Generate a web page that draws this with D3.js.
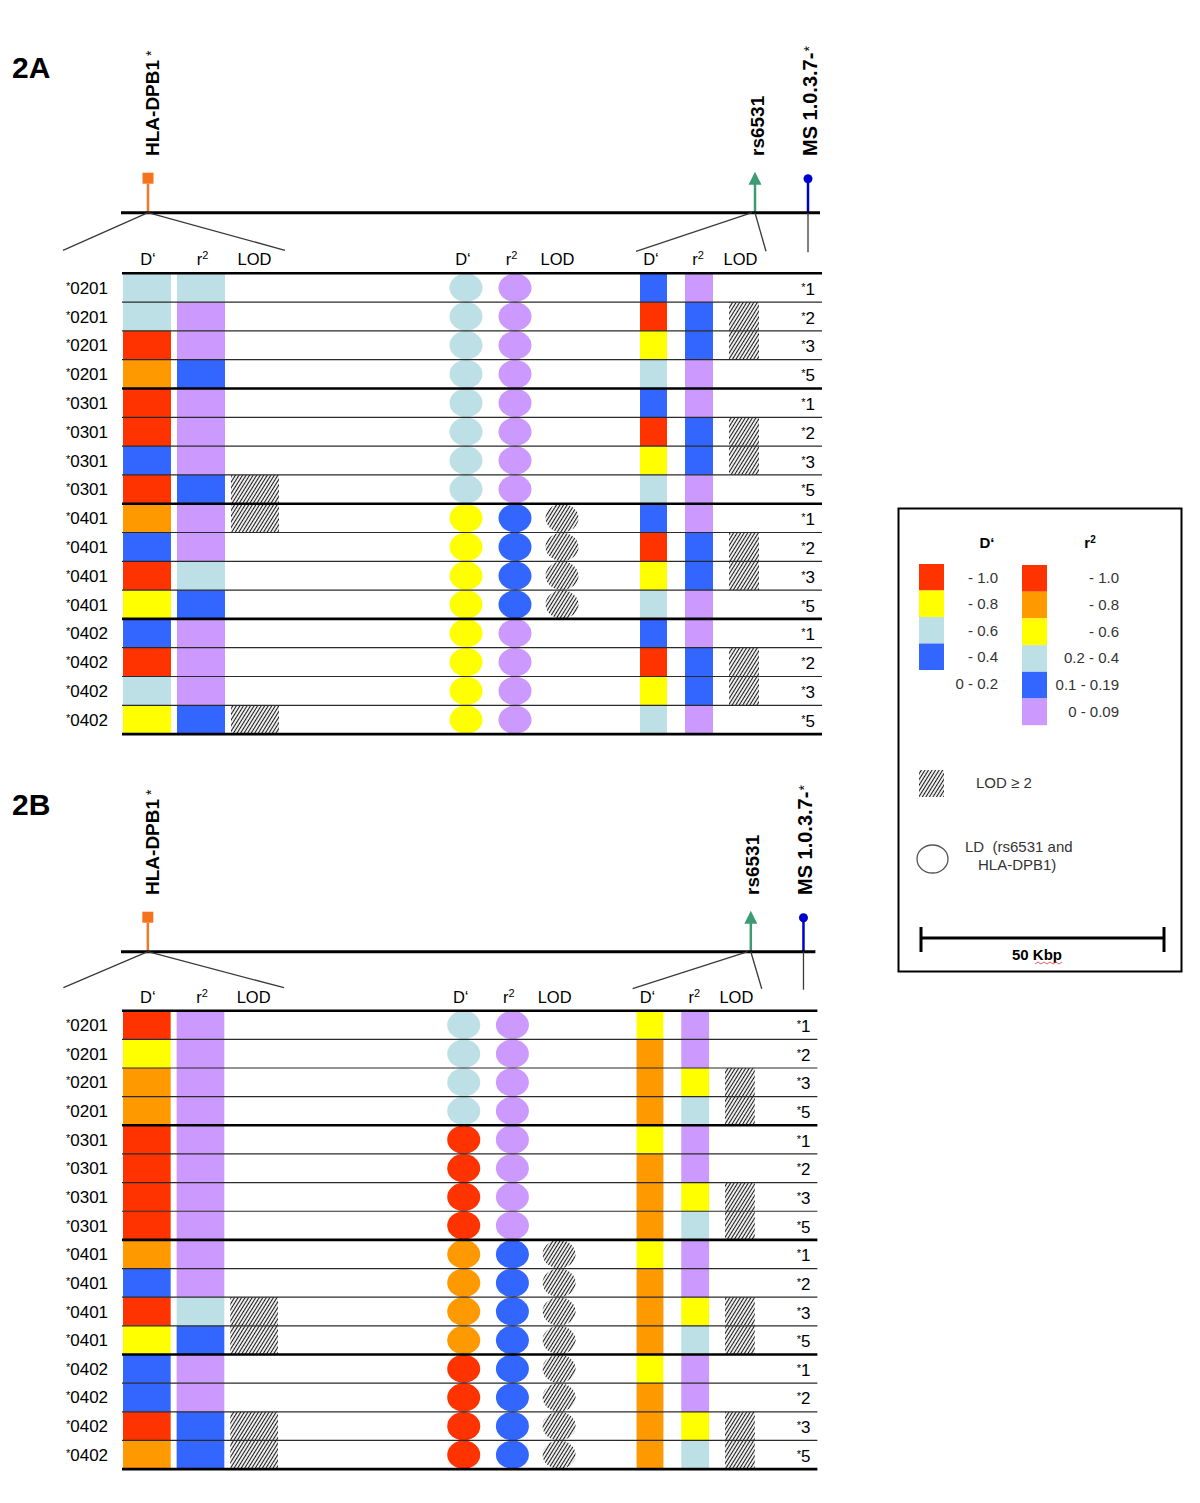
<!DOCTYPE html>
<html><head><meta charset="utf-8">
<script src="https://cdn.jsdelivr.net/npm/d3@7"></script>
<style>
body{margin:0;background:#fff}
svg{display:block}
text{font-family:"Liberation Sans",Arial,sans-serif;fill:#000}
</style>
</head><body>
<svg id="chart" width="1200" height="1503"></svg>
<script>
// ---------------- DATA ----------------
const alleles = ["*0201","*0201","*0201","*0201","*0301","*0301","*0301","*0301",
                 "*0401","*0401","*0401","*0401","*0402","*0402","*0402","*0402"];
const subtypes = ["*1","*2","*3","*5","*1","*2","*3","*5",
                  "*1","*2","*3","*5","*1","*2","*3","*5"];
const colorCodes  = ["R","O","Y","L","B","P"];
const colorValues = ["#ff3300","#ff9900","#ffff00","#bde0e6","#3366ff","#cc99ff"];

// Panel 2A
const A_leftD   = ["L","L","R","O","R","R","B","R","O","B","R","Y","B","R","L","Y"];
const A_leftR   = ["L","P","P","B","P","P","P","B","P","P","L","B","P","P","P","B"];
const A_leftLOD = [0,0,0,0,0,0,0,1,1,0,0,0,0,0,0,1];
const A_midD    = ["L","L","L","L","L","L","L","L","Y","Y","Y","Y","Y","Y","Y","Y"];
const A_midR    = ["P","P","P","P","P","P","P","P","B","B","B","B","P","P","P","P"];
const A_midLOD  = [0,0,0,0,0,0,0,0,1,1,1,1,0,0,0,0];
const A_rightD  = ["B","R","Y","L","B","R","Y","L","B","R","Y","L","B","R","Y","L"];
const A_rightR  = ["P","B","B","P","P","B","B","P","P","B","B","P","P","B","B","P"];
const A_rightLOD= [0,1,1,0,0,1,1,0,0,1,1,0,0,1,1,0];

// Panel 2B
const B_leftD   = ["R","Y","O","O","R","R","R","R","O","B","R","Y","B","B","R","O"];
const B_leftR   = ["P","P","P","P","P","P","P","P","P","P","L","B","P","P","B","B"];
const B_leftLOD = [0,0,0,0,0,0,0,0,0,0,1,1,0,0,1,1];
const B_midD    = ["L","L","L","L","R","R","R","R","O","O","O","O","R","R","R","R"];
const B_midR    = ["P","P","P","P","P","P","P","P","B","B","B","B","B","B","B","B"];
const B_midLOD  = [0,0,0,0,0,0,0,0,1,1,1,1,1,1,1,1];
const B_rightD  = ["Y","O","O","O","Y","O","O","O","Y","O","O","O","Y","O","O","O"];
const B_rightR  = ["P","P","Y","L","P","P","Y","L","P","P","Y","L","P","P","Y","L"];
const B_rightLOD= [0,0,1,1,0,0,1,1,0,0,1,1,0,0,1,1];

const headerLabels = ["D\u2018","r2","LOD"];
const legendDLabels = ["- 1.0","- 0.8","- 0.6","- 0.4","0 - 0.2"];
const legendDColors = ["R","Y","L","B"];
const legendRLabels = ["- 1.0","- 0.8","- 0.6","0.2 - 0.4","0.1 - 0.19","0 - 0.09"];
const legendRColors = ["R","O","Y","L","B","P"];

// ---------------- SETUP ----------------
const svg = d3.select("#chart");
const color = d3.scaleOrdinal().domain(colorCodes).range(colorValues);

const defs = svg.append("defs");
const pat = defs.append("pattern").attr("id","hatch")
  .attr("patternUnits","userSpaceOnUse").attr("width",3).attr("height",6)
  .attr("patternTransform","rotate(32)");
pat.append("rect").attr("width",3).attr("height",6).attr("fill","#fff");
pat.append("line").attr("x1",1.5).attr("x2",1.5).attr("y1",0).attr("y2",6)
  .attr("stroke","#1a1a1a").attr("stroke-width",1.15);

const panels = [
  {name:"2A", chromY:212.7, gridTop:273.3, rowH:28.8, k:1, titleY:78, textBase:156,
   cols:[A_leftD,A_leftR,A_leftLOD,A_midD,A_midR,A_midLOD,A_rightD,A_rightR,A_rightLOD]},
  {name:"2B", chromY:951.7, gridTop:1010.7, rowH:28.65, k:0.9934, titleY:815, textBase:895,
   cols:[B_leftD,B_leftR,B_leftLOD,B_midD,B_midR,B_midLOD,B_rightD,B_rightR,B_rightLOD]}
];

const colLayout = [
  {type:"rect", x0:123, x1:171, hx:148},
  {type:"rect", x0:177, x1:225, hx:202.5},
  {type:"hrect",x0:231, x1:279, hx:254.5},
  {type:"ell",  cx:466, hx:463},
  {type:"ell",  cx:515, hx:511.5},
  {type:"hell", cx:562, hx:557.5},
  {type:"rect", x0:640, x1:667, hx:651},
  {type:"rect", x0:685, x1:713, hx:698},
  {type:"hrect",x0:729, x1:759, hx:740.5}
];

function headerText(sel, label){
  if(label==="r2"){
    sel.append("tspan").text("r");
    sel.append("tspan").attr("font-size",11).attr("dy",-6).text("2");
  } else sel.text(label);
}

function drawPanel(p){
  const g = svg.append("g");
  const X = d3.scaleLinear().domain([122,822]).range([122,122+700*p.k]);
  const y = d3.scaleBand().domain(d3.range(alleles.length))
    .range([p.gridTop, p.gridTop + alleles.length*p.rowH]);
  const cy = i => y(i) + y.bandwidth()/2;

  g.append("text").attr("x",12).attr("y",p.titleY)
    .attr("font-size",30).attr("font-weight","bold").text(p.name);

  const markers = [
    {tx:159, main:"HLA-DPB1", star:"*", fs:19},
    {tx:763.5, main:"rs6531", star:"", fs:19},
    {tx:817, main:"MS 1.0.3.7-", star:"*", fs:20}
  ];
  markers.forEach(m=>{
    const t = g.append("text")
      .attr("transform",`translate(${X(m.tx)},${p.textBase}) rotate(-90)`)
      .attr("font-size",m.fs).attr("font-weight","bold");
    t.append("tspan").text(m.main);
    if(m.star) t.append("tspan").attr("font-size",14).attr("font-weight","normal")
      .attr("dx",m.main.endsWith("-")?1:4).attr("dy",-3).text(m.star);
  });

  const cY = p.chromY;
  g.append("line").attr("x1",X(148)).attr("x2",X(148)).attr("y1",cY-29).attr("y2",cY)
    .attr("stroke","#f0782a").attr("stroke-width",2.5);
  g.append("rect").attr("x",X(148)-5.5).attr("y",cY-40).attr("width",11).attr("height",11)
    .attr("fill","#f5731d");
  g.append("line").attr("x1",X(755)).attr("x2",X(755)).attr("y1",cY-29).attr("y2",cY)
    .attr("stroke","#3d9a72").attr("stroke-width",2.5);
  g.append("path").attr("d",`M${X(755)},${cY-41} L${X(755)+6.5},${cY-28} L${X(755)-6.5},${cY-28}Z`)
    .attr("fill","#3d9a72");
  g.append("line").attr("x1",X(808)).attr("x2",X(808)).attr("y1",cY-34).attr("y2",cY)
    .attr("stroke","#0000cc").attr("stroke-width",2.5);
  g.append("circle").attr("cx",X(808)).attr("cy",cY-34).attr("r",4.5).attr("fill","#0000cc");

  g.append("line").attr("x1",X(121)).attr("x2",X(820)).attr("y1",cY).attr("y2",cY)
    .attr("stroke","#000").attr("stroke-width",3);

  const endY = p.gridTop - 23;
  const conn = [
    [148,cY,63,endY],[148,cY,285,endY],
    [752,cY,636,endY+1],[755,cY,766,endY+1],
    [808,cY,808,endY+2]
  ];
  conn.forEach(c=>g.append("line").attr("x1",X(c[0])).attr("y1",c[1]).attr("x2",X(c[2])).attr("y2",c[3])
    .attr("stroke","#3a3a3a").attr("stroke-width",1.3));

  colLayout.forEach((c,ci)=>{
    const t = g.append("text").attr("x",X(c.hx)).attr("y",p.gridTop-8)
      .attr("text-anchor","middle").attr("font-size",16.5);
    headerText(t, headerLabels[ci%3]);
  });

  colLayout.forEach((c,ci)=>{
    const vals = p.cols[ci];
    const cg = g.append("g");
    if(c.type==="rect"){
      cg.selectAll("rect").data(vals).join("rect")
        .attr("x",X(c.x0)).attr("width",X(c.x1)-X(c.x0))
        .attr("y",(d,i)=>y(i)).attr("height",y.bandwidth())
        .attr("fill",d=>color(d));
    } else if(c.type==="hrect"){
      cg.selectAll("rect").data(vals.map((v,i)=>({v,i})).filter(d=>d.v)).join("rect")
        .attr("x",X(c.x0)).attr("width",X(c.x1)-X(c.x0))
        .attr("y",d=>y(d.i)).attr("height",y.bandwidth())
        .attr("fill","url(#hatch)");
    } else if(c.type==="ell"){
      cg.selectAll("ellipse").data(vals).join("ellipse")
        .attr("cx",X(c.cx)).attr("cy",(d,i)=>cy(i)).attr("rx",16.5).attr("ry",14.2)
        .attr("fill",d=>color(d));
    } else {
      cg.selectAll("ellipse").data(vals.map((v,i)=>({v,i})).filter(d=>d.v)).join("ellipse")
        .attr("cx",X(c.cx)).attr("cy",d=>cy(d.i)).attr("rx",16.5).attr("ry",14.2)
        .attr("fill","url(#hatch)");
    }
  });

  d3.range(alleles.length+1).forEach(i=>{
    const yy = p.gridTop + i*p.rowH;
    const thick = i%4===0;
    g.append("line").attr("x1",X(122)).attr("x2",X(822)).attr("y1",yy).attr("y2",yy)
      .attr("stroke",thick?"#000":"#2a2a2a").attr("stroke-width",thick?2.6:1.2);
  });

  alleles.forEach((a,i)=>{
    const t = g.append("text").attr("x",X(108)).attr("y",cy(i)+6)
      .attr("text-anchor","end").attr("font-size",17);
    t.append("tspan").attr("font-size",11).attr("dy",-4).text(a[0]);
    t.append("tspan").attr("dy",4).text(a.slice(1));
  });
  subtypes.forEach((s,i)=>{
    const t = g.append("text").attr("x",X(815)).attr("y",cy(i)+7)
      .attr("text-anchor","end").attr("font-size",17);
    t.append("tspan").attr("font-size",11).attr("dy",-4).text(s[0]);
    t.append("tspan").attr("dy",4).text(s.slice(1));
  });
}

panels.forEach(drawPanel);

// ---------------- LEGEND ----------------
const lg = svg.append("g");
lg.append("rect").attr("x",898.5).attr("y",508.5).attr("width",283).attr("height",463)
  .attr("fill","#fff").attr("stroke","#000").attr("stroke-width",2);

lg.append("text").attr("x",987).attr("y",548).attr("text-anchor","middle")
  .attr("font-size",15).attr("font-weight","bold").text("D\u2018");
const lrh = lg.append("text").attr("x",1090).attr("y",548).attr("text-anchor","middle")
  .attr("font-size",15).attr("font-weight","bold");
lrh.append("tspan").text("r");
lrh.append("tspan").attr("font-size",10).attr("dy",-5).text("2");

const ld = d3.scaleBand().domain(d3.range(legendDLabels.length)).range([564,564+26.5*legendDLabels.length]);
lg.selectAll(".ldsw").data(legendDColors).join("rect").attr("class","ldsw")
  .attr("x",919).attr("width",25).attr("y",(d,i)=>ld(i)).attr("height",ld.bandwidth())
  .attr("fill",d=>color(d));
lg.selectAll(".ldlab").data(legendDLabels).join("text").attr("class","ldlab")
  .attr("x",998).attr("y",(d,i)=>ld(i)+ld.bandwidth()/2+5.5).attr("text-anchor","end")
  .attr("font-size",15).style("fill","#333").text(d=>d);

const lr = d3.scaleBand().domain(d3.range(legendRLabels.length)).range([565,565+26.7*legendRLabels.length]);
lg.selectAll(".lrsw").data(legendRColors).join("rect").attr("class","lrsw")
  .attr("x",1022).attr("width",25).attr("y",(d,i)=>lr(i)).attr("height",lr.bandwidth())
  .attr("fill",d=>color(d));
lg.selectAll(".lrlab").data(legendRLabels).join("text").attr("class","lrlab")
  .attr("x",1119).attr("y",(d,i)=>lr(i)+lr.bandwidth()/2+5).attr("text-anchor","end")
  .attr("font-size",15).style("fill","#333").text(d=>d);

lg.append("rect").attr("x",919).attr("y",770).attr("width",25).attr("height",27).attr("fill","url(#hatch)");
lg.append("text").attr("x",976).attr("y",788).attr("font-size",15).style("fill","#333").text("LOD \u2265 2");

lg.append("ellipse").attr("cx",932.5).attr("cy",859).attr("rx",15.5).attr("ry",14)
  .attr("fill","#fff").attr("stroke","#555").attr("stroke-width",1.3);
lg.append("text").attr("x",965).attr("y",852).attr("font-size",15).style("fill","#333")
  .attr("xml:space","preserve").text("LD  (rs6531 and");
lg.append("text").attr("x",978).attr("y",870).attr("font-size",15).style("fill","#333").text("HLA-DPB1)");

lg.append("line").attr("x1",921).attr("x2",1164).attr("y1",938).attr("y2",938).attr("stroke","#000").attr("stroke-width",3);
lg.append("line").attr("x1",921).attr("x2",921).attr("y1",927).attr("y2",952).attr("stroke","#000").attr("stroke-width",3);
lg.append("line").attr("x1",1164).attr("x2",1164).attr("y1",927).attr("y2",952).attr("stroke","#000").attr("stroke-width",3);
lg.append("text").attr("x",1037).attr("y",960).attr("text-anchor","middle")
  .attr("font-size",15).attr("font-weight","bold").text("50 Kbp");
lg.append("path").attr("d",d3.range(0,30,3).map((v,i)=>(i?"L":"M")+(1035+v)+","+(i%2?962:964)).join(""))
  .attr("fill","none").attr("stroke","#e33").attr("stroke-width",0.8);
</script>
</body></html>
